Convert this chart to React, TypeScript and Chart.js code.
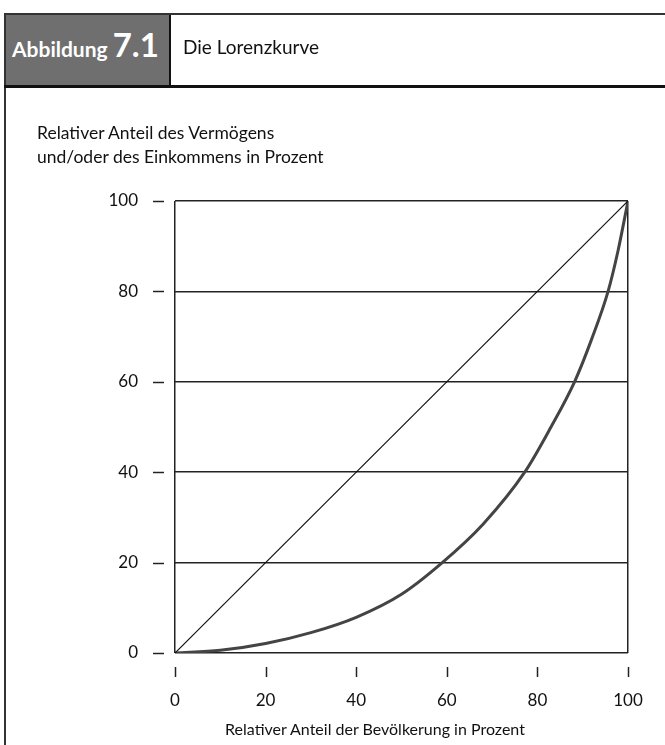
import React, { useEffect, useRef } from "react";
import { Chart, registerables } from "chart.js";

Chart.register(...registerables);

// Lorenz curve
const populationShare = [0, 10, 20, 30, 40, 50, 59, 68, 77.2, 83, 88.2, 92, 95.6, 97.8, 100];
const lorenzShare = [0, 0.6, 2.1, 4.5, 7.9, 13.0, 20, 28.5, 40, 50, 60, 69.5, 80, 89, 100];
// Line of equal distribution
const equalityX = [0, 100];
const equalityY = [0, 100];
// Tick labels
const xTicks = [0, 20, 40, 60, 80, 100];
const yTicks = [0, 20, 40, 60, 80, 100];

const FONT = "Lato, 'Open Sans', sans-serif";

const tickMarks = {
  id: "tickMarks",
  afterDraw(chart: any) {
    const { ctx, chartArea } = chart;
    const x = chart.scales.x;
    const y = chart.scales.y;
    ctx.save();
    ctx.strokeStyle = "#222";
    ctx.lineWidth = 1.5;
    yTicks.forEach((v) => {
      const py = Math.round(y.getPixelForValue(v)) + 0.5;
      ctx.beginPath();
      ctx.moveTo(chartArea.left - 22, py);
      ctx.lineTo(chartArea.left - 11, py);
      ctx.stroke();
    });
    xTicks.forEach((v) => {
      const px = Math.round(x.getPixelForValue(v)) + 0.5;
      ctx.beginPath();
      ctx.moveTo(px, chartArea.bottom + 14);
      ctx.lineTo(px, chartArea.bottom + 24);
      ctx.stroke();
    });
    ctx.restore();
  },
};

export default function App() {
  const ref = useRef<HTMLCanvasElement | null>(null);

  useEffect(() => {
    if (!ref.current) return;
    const chart = new Chart(ref.current, {
      type: "line",
      data: {
        datasets: [
          {
            label: "Gleichverteilung",
            data: equalityX.map((x, i) => ({ x, y: equalityY[i] })),
            borderColor: "#111",
            borderWidth: 1.2,
            pointRadius: 0,
            fill: false,
          },
          {
            label: "Lorenzkurve",
            data: populationShare.map((x, i) => ({ x, y: lorenzShare[i] })),
            borderColor: "#444",
            borderWidth: 3,
            pointRadius: 0,
            cubicInterpolationMode: "monotone",
            fill: false,
          },
        ],
      },
      options: {
        responsive: false,
        animation: false,
        devicePixelRatio: 1,
        layout: { padding: { top: 201, right: 37, left: 0, bottom: 0 } },
        plugins: { legend: { display: false }, tooltip: { enabled: false } },
        scales: {
          x: {
            type: "linear",
            min: 0,
            max: 100,
            afterFit: (s: any) => {
              s.height = 92;
              s.paddingLeft = 0;
              s.paddingRight = 0;
            },
            afterBuildTicks: (s: any) => {
              s.ticks = xTicks.map((v) => ({ value: v }));
            },
            ticks: {
              padding: 37,
              color: "#111",
              font: { family: FONT, size: 17 },
            },
            grid: {
              drawTicks: false,
              lineWidth: 1.5,
              color: (c: any) =>
                c.tick && (c.tick.value === 0 || c.tick.value === 100) ? "#222" : "rgba(0,0,0,0)",
            },
            border: { display: false },
          },
          y: {
            type: "linear",
            min: 0,
            max: 100,
            afterFit: (s: any) => {
              s.width = 175;
              s.paddingTop = 0;
              s.paddingBottom = 0;
            },
            afterBuildTicks: (s: any) => {
              s.ticks = yTicks.map((v) => ({ value: v }));
            },
            ticks: {
              padding: 37,
              color: "#111",
              font: { family: FONT, size: 17 },
            },
            grid: { drawTicks: false, lineWidth: 1.5, color: "#222" },
            border: { display: false },
          },
        },
      },
      plugins: [tickMarks],
    } as any);
    return () => chart.destroy();
  }, []);

  return (
    <div style={{ position: "absolute", left: 0, top: 0, width: 665, height: 745, overflow: "hidden", background: "#fff", fontFamily: FONT }}>
      <canvas ref={ref} width={665} height={745} style={{ position: "absolute", left: 0, top: 0, width: 665, height: 745 }} />
      {/* frame */}
      <div style={{ position: "absolute", left: 4, top: 13, width: 700, height: 2, background: "#333" }} />
      <div style={{ position: "absolute", left: 4, top: 13, width: 2, height: 740, background: "#333" }} />
      {/* header */}
      <div style={{ position: "absolute", left: 6, top: 15, width: 163, height: 70, background: "#6f6f6f" }} />
      <div style={{ position: "absolute", left: 169, top: 15, width: 2, height: 70, background: "#111" }} />
      <div style={{ position: "absolute", left: 4, top: 85, width: 700, height: 2.5, background: "#111" }} />
      <div style={{ position: "absolute", left: 12, top: 24, height: 40, display: "flex", alignItems: "baseline", color: "#fff", fontWeight: 700, whiteSpace: "nowrap" }}>
        <span style={{ fontSize: 21 }}>Abbildung</span>
        <span style={{ fontSize: 33, marginLeft: 5 }}>7.1</span>
      </div>
      <div style={{ position: "absolute", left: 183, top: 35, fontSize: 19, color: "#111", whiteSpace: "nowrap" }}>Die Lorenzkurve</div>
      {/* y title */}
      <div style={{ position: "absolute", left: 37, top: 121, fontSize: 17.5, lineHeight: "24px", color: "#111", whiteSpace: "nowrap" }}>
        Relativer Anteil des Vermögens
        <br />
        und/oder des Einkommens in Prozent
      </div>
      {/* x title */}
      <div style={{ position: "absolute", left: 175, width: 400, top: 719, fontSize: 16, lineHeight: "20px", color: "#111", textAlign: "center", whiteSpace: "nowrap" }}>
        Relativer Anteil der Bevölkerung in Prozent
      </div>
    </div>
  );
}
